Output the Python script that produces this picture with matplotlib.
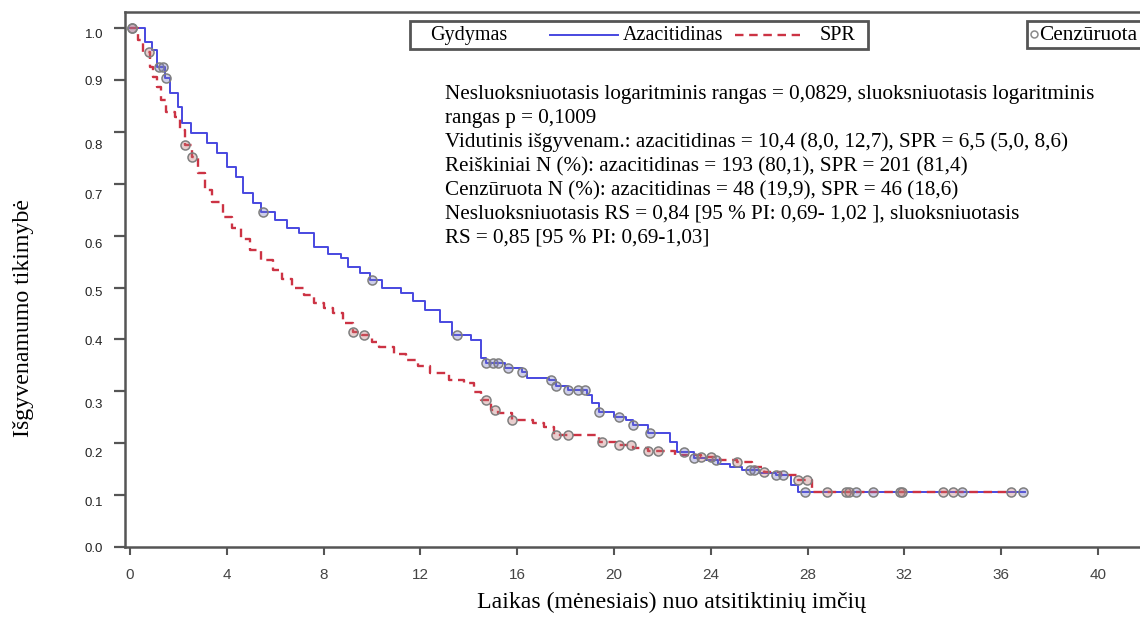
import numpy as np
import matplotlib
matplotlib.use("Agg")
import matplotlib.pyplot as plt
from matplotlib.patches import Rectangle
from matplotlib.lines import Line2D
from matplotlib.transforms import ScaledTranslation

# ---------------- data ----------------
t_aza = [0, 0.6, 0.9, 1.1, 1.45, 1.65, 2.0, 2.15, 2.5, 3.2, 3.6, 4.0, 4.4, 4.67, 5.1, 5.4,
         6.0, 6.5, 7.0, 7.6, 8.2, 8.7, 9.0, 9.5, 9.9, 10.4, 11.2, 11.7, 12.2, 12.8, 13.3,
         14.1, 14.5, 14.7, 15.5, 16.2, 16.4, 17.3, 17.6, 18.1, 18.9, 19.1, 19.4, 20.0, 20.5,
         20.8, 21.4, 22.3, 22.6, 23.3, 23.8, 24.3, 24.8, 25.3, 26.0, 26.7, 27.3, 27.6]
s_aza = [1.0, 0.973, 0.958, 0.925, 0.904, 0.875, 0.848, 0.817, 0.798, 0.778, 0.759, 0.732,
         0.713, 0.682, 0.663, 0.645, 0.63, 0.615, 0.605, 0.578, 0.565, 0.557, 0.54, 0.527,
         0.514, 0.50, 0.49, 0.474, 0.457, 0.433, 0.408, 0.399, 0.364, 0.355, 0.345, 0.337,
         0.326, 0.322, 0.31, 0.302, 0.293, 0.277, 0.26, 0.25, 0.245, 0.235, 0.22, 0.202,
         0.183, 0.171, 0.168, 0.16, 0.154, 0.148, 0.143, 0.139, 0.119, 0.106]
aza_end = 37.0
cens_aza = [0.1, 1.2, 1.35, 1.5, 5.5, 10.0, 13.5, 14.7, 15.0, 15.2, 15.6, 16.2, 17.4, 17.6,
            18.1, 18.5, 18.8, 19.4, 20.2, 20.8, 21.5, 22.9, 23.3, 24.2, 25.6, 25.8, 26.7,
            27.0, 27.9, 30.0, 30.7, 34.4, 36.9]

t_spr = [0, 0.33, 0.54, 0.83, 0.95, 1.1, 1.3, 1.5, 1.86, 2.07, 2.27, 2.56, 2.8, 3.1, 3.4,
         3.84, 4.2, 4.6, 4.96, 5.4, 5.9, 6.3, 6.7, 7.2, 7.6, 8.0, 8.4, 8.8, 9.2, 9.6, 10.0,
         10.3, 10.9, 11.4, 11.9, 12.4, 13.2, 13.8, 14.2, 14.5, 14.9, 15.2, 15.8, 16.65, 17.1,
         17.5, 19.4, 20.1, 20.8, 21.4, 22.5, 23.6, 24.4, 25.1, 25.7, 26.2, 26.9, 27.6, 28.2]
s_spr = [1.0, 0.977, 0.954, 0.925, 0.905, 0.886, 0.861, 0.838, 0.829, 0.803, 0.775, 0.751,
         0.72, 0.688, 0.665, 0.636, 0.615, 0.593, 0.572, 0.553, 0.534, 0.517, 0.50, 0.485,
         0.47, 0.46, 0.45, 0.432, 0.414, 0.408, 0.395, 0.385, 0.372, 0.36, 0.348, 0.335,
         0.322, 0.316, 0.299, 0.283, 0.264, 0.258, 0.245, 0.239, 0.231, 0.216, 0.202, 0.196,
         0.19, 0.185, 0.178, 0.173, 0.168, 0.164, 0.155, 0.145, 0.138, 0.13, 0.106]
spr_end = 36.4
cens_spr = [0.1, 0.8, 2.27, 2.56, 9.2, 9.65, 14.7, 15.1, 15.8, 17.6, 18.1, 19.5, 20.2, 20.7,
            21.4, 21.8, 23.6, 24.0, 25.1, 26.2, 27.6, 27.97, 28.8, 29.6, 29.7, 31.8, 31.9,
            33.6, 34.0, 36.4]

x_ticks = [0, 4, 8, 12, 16, 20, 24, 28, 32, 36, 40]
y_ticks = [0.0, 0.1, 0.2, 0.3, 0.4, 0.5, 0.6, 0.7, 0.8, 0.9, 1.0]
y_tick_labels = ["0.0", "0.1", "0.2", "0.3", "0.4", "0.5", "0.6", "0.7", "0.8", "0.9", "1.0"]

stats_lines = [
    "Nesluoksniuotasis logaritminis rangas = 0,0829, sluoksniuotasis logaritminis",
    "rangas p = 0,1009",
    "Vidutinis išgyvenam.: azacitidinas = 10,4 (8,0, 12,7), SPR = 6,5 (5,0, 8,6)",
    "Reiškiniai N (%): azacitidinas = 193 (80,1), SPR = 201 (81,4)",
    "Cenzūruota N (%): azacitidinas = 48 (19,9), SPR = 46 (18,6)",
    "Nesluoksniuotasis RS = 0,84 [95 % PI: 0,69- 1,02 ], sluoksniuotasis",
    "RS = 0,85 [95 % PI: 0,69-1,03]",
]

# ---------------- style ----------------
W, H = 1140, 617
BLUE = "#4848e0"
RED = "#cc3344"
SERIF = "Liberation Serif"
SANS = "Liberation Sans"

fig = plt.figure(figsize=(W / 100, H / 100), dpi=100)

def fx(px):
    return px / W

def fy(py):
    return 1 - py / H

ax = fig.add_axes([fx(125), fy(547), fx(1152 - 125), fy(12) - fy(547)])
ax.set_xlim(-5 / 24.2, (1152 - 130) / 24.2)
ax.set_ylim(0, 1 + 16 / 519)

def step_vals(t, s, q):
    idx = np.searchsorted(np.asarray(t), np.asarray(q), side="right") - 1
    return np.asarray(s)[idx]

ta = np.append(t_aza, aza_end)
sa = np.append(s_aza, s_aza[-1])
tsp = np.append(t_spr, spr_end)
ssp = np.append(s_spr, s_spr[-1])

ax.step(ta, sa, where="post", color=BLUE, lw=1.4, zorder=3)
ax.step(tsp, ssp, where="post", color=RED, lw=1.7, linestyle=(0, (3.6, 2.4)), zorder=3)

mk = dict(marker="o", ms=6.5, mec="#7f7f7f", mew=1.1, ls="none", zorder=4)
ax.plot(cens_aza, step_vals(t_aza, s_aza, cens_aza), mfc=(0.45, 0.45, 0.75, 0.35), **mk)
ax.plot(cens_spr, step_vals(t_spr, s_spr, cens_spr), mfc=(0.75, 0.45, 0.45, 0.35), **mk)

# spines & ticks
for sp in ["left", "bottom", "top"]:
    ax.spines[sp].set_color("#555555")
    ax.spines[sp].set_linewidth(1.8)
ax.spines["right"].set_visible(False)
ax.set_xticks(x_ticks)
ax.set_xticklabels([str(v) for v in x_ticks], fontfamily=SANS, fontsize=11, color="#444444")
ax.tick_params(axis="x", length=6, width=1.5, color="#555555", pad=9)
ax.set_yticks(y_ticks)
ax.set_yticklabels([])
ax.tick_params(axis="y", length=8, width=1.6, color="#555555")

# y tick labels with the slight vertical shifts of the reference
y_label_shift_px = [2, 8, 11, 14, 3, 5, 9, 12, 14, 2, 7]
ytr = ax.get_yaxis_transform()
for v, lab, dpx in zip(y_ticks, y_tick_labels, y_label_shift_px):
    tr = ytr + ScaledTranslation(-22 / 100, -dpx / 100, fig.dpi_scale_trans)
    ax.text(0, v, lab, transform=tr, ha="right", va="center", fontfamily=SANS,
            fontsize=9.5, color="#222222", clip_on=False)

# axis labels
fig.text(fx(671), fy(602), "Laikas (mėnesiais) nuo atsitiktinių imčių", ha="center",
         va="center", fontfamily=SERIF, fontsize=17.2)
fig.text(fx(24), fy(318), "Išgyvenamumo tikimybė", ha="center", va="center",
         rotation=90, fontfamily=SERIF, fontsize=17.2)

# stats text
for i, line in enumerate(stats_lines):
    fig.text(fx(445), fy(99 + 24 * i), line, ha="left", va="baseline",
             fontfamily=SERIF, fontsize=15.2)

# legend box
LEG_FS = 14.5
fig.add_artist(Rectangle((fx(410), fy(49)), fx(458), fy(21) - fy(49), transform=fig.transFigure,
                         fill=True, fc="white", ec="#555555", lw=2))
fig.text(fx(430), fy(40), "Gydymas", fontfamily=SERIF, fontsize=LEG_FS, va="baseline")
fig.add_artist(Line2D([fx(550), fx(618)], [fy(35), fy(35)], transform=fig.transFigure,
                      color=BLUE, lw=1.4))
fig.text(fx(623), fy(40), "Azacitidinas", fontfamily=SERIF, fontsize=LEG_FS, va="baseline")
fig.add_artist(Line2D([fx(735), fx(800)], [fy(35), fy(35)], transform=fig.transFigure,
                      color=RED, lw=1.7, linestyle=(0, (3.6, 2.4))))
fig.text(fx(820), fy(40), "SPR", fontfamily=SERIF, fontsize=LEG_FS, va="baseline")

fig.add_artist(Rectangle((fx(1027), fy(48)), fx(130), fy(21) - fy(48), transform=fig.transFigure,
                         fill=True, fc="white", ec="#555555", lw=2))
fig.add_artist(Line2D([fx(1034)], [fy(34)], transform=fig.transFigure, marker="o", ms=5,
                      mec="#8a8a8a", mfc="white", mew=1.1, ls="none"))
fig.text(fx(1039), fy(40), "Cenzūruota", fontfamily=SERIF, fontsize=15.3, va="baseline")

fig.savefig("out.png", dpi=100)
